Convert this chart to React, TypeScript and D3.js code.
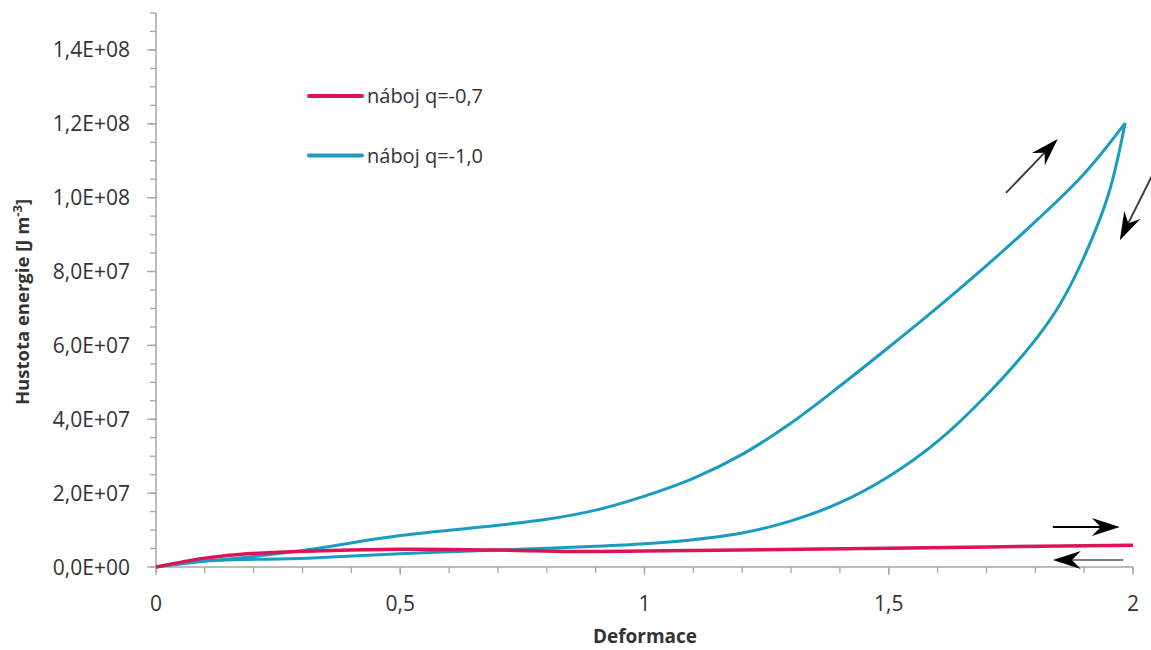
import React from 'react';
import * as d3 from 'd3';

const W = 1151;
const H = 650;

// Axis ticks
const xMajorTicks = [0, 0.5, 1, 1.5, 2];
const yMajorTicks = [0, 2e7, 4e7, 6e7, 8e7, 1e8, 1.2e8, 1.4e8];
const xMinorStep = 0.1;
const yMinorStep = 5e6;

// Series: náboj q=-0,7 (loading and unloading coincide)
const redX = [0, 0.1, 0.17, 0.29, 0.5, 0.7, 0.85, 1.0, 1.5, 2.0];
const redY = [0, 2.4e6, 3.4e6, 4.2e6, 4.8e6, 4.6e6, 4.2e6, 4.3e6, 5.1e6, 5.9e6];

// Series: náboj q=-1,0 loading branch
const blueLoadX = [0, 0.1, 0.14, 0.29, 0.5, 0.7, 0.8, 0.9, 1.0, 1.1, 1.2, 1.3, 1.4, 1.5, 1.6, 1.7, 1.8, 1.9, 1.984];
const blueLoadY = [0, 1.6e6, 2.0e6, 4.3e6, 8.5e6, 11.3e6, 12.9e6, 15.4e6, 19.2e6, 24.0e6, 30.5e6, 39.0e6, 49.0e6, 59.5e6, 70.3e6, 81.6e6, 93.5e6, 106.5e6, 120.2e6];

// Series: náboj q=-1,0 unloading branch (listed from origin to the turning point)
const blueUnloadX = [0, 0.104, 0.309, 0.5, 0.7, 0.8, 0.9, 1.0, 1.1, 1.2, 1.3, 1.4, 1.5, 1.6, 1.7, 1.8, 1.85, 1.9, 1.95, 1.984];
const blueUnloadY = [0, 1.6e6, 2.4e6, 3.6e6, 4.6e6, 5.1e6, 5.6e6, 6.3e6, 7.4e6, 9.2e6, 12.5e6, 17.4e6, 24.5e6, 34.0e6, 46.5e6, 61.5e6, 71.0e6, 84.0e6, 101.0e6, 120.2e6];

const seriesNames = ['náboj q=-0,7', 'náboj q=-1,0'];
const seriesColors = ['#DA1457', '#1A9CC0'];

// Direction arrows (data coordinates): from -> to
const arrowX1 = [1.74, 2.055, 1.836, 1.98];
const arrowY1 = [101.3e6, 110.2e6, 10.8e6, 1.9e6];
const arrowX2 = [1.846, 1.973, 1.973, 1.836];
const arrowY2 = [115.9e6, 88.5e6, 10.8e6, 1.9e6];
const arrowShaftColors = ['#404040', '#404040', '#000000', '#808080'];

const xTitle = 'Deformace';
const yTitle = 'Hustota energie [J m';

const FONT = "'Open Sans', sans-serif";
const AXIS_COLOR = '#A6A6A6';
const TEXT_COLOR = '#333333';

function fmtY(v: number): string {
  if (v === 0) return '0,0E+00';
  const e = Math.floor(Math.log10(v) + 1e-9);
  const m = v / Math.pow(10, e);
  return `${m.toFixed(1).replace('.', ',')}E+${String(e).padStart(2, '0')}`;
}
function fmtX(v: number): string {
  return String(v).replace('.', ',');
}

export default function App() {
  const x = d3.scaleLinear().domain([0, 2]).range([156, 1133]);
  const y = d3.scaleLinear().domain([0, 1.5e8]).range([567, 13]);

  const line = d3
    .line<[number, number]>()
    .x((d) => x(d[0]))
    .y((d) => y(d[1]))
    .curve(d3.curveCatmullRom.alpha(0.5));

  const zip = (a: number[], b: number[]) => a.map((v, i) => [v, b[i]] as [number, number]);

  const xMinor = d3.range(0, 2 + 1e-9, xMinorStep);
  const yMinor = d3.range(0, 1.5e8 + 1, yMinorStep);

  const arrows = arrowX1.map((_, i) => {
    const x1 = x(arrowX1[i]);
    const y1 = y(arrowY1[i]);
    const x2 = x(arrowX2[i]);
    const y2 = y(arrowY2[i]);
    const ang = Math.atan2(y2 - y1, x2 - x1);
    const len = 28;
    const hw = 9;
    const notch = 19;
    const ux = Math.cos(ang);
    const uy = Math.sin(ang);
    const px = -uy;
    const py = ux;
    const bx = x2 - ux * len;
    const by = y2 - uy * len;
    const nx = x2 - ux * notch;
    const ny = y2 - uy * notch;
    const head = `M${x2},${y2} L${bx + px * hw},${by + py * hw} L${nx},${ny} L${bx - px * hw},${by - py * hw} Z`;
    return { x1, y1, nx, ny, head, color: arrowShaftColors[i] };
  });

  return (
    <svg
      width={W}
      height={H}
      style={{ position: 'absolute', left: 0, top: 0, background: '#fff' }}
      fontFamily={FONT}
    >
      <rect x={0} y={0} width={W} height={H} fill="#fff" />
      {/* Y axis */}
      <line x1={x(0)} x2={x(0)} y1={y(0)} y2={y(1.5e8)} stroke={AXIS_COLOR} strokeWidth={1.5} />
      {yMinor.map((v) => (
        <line key={'ym' + v} x1={x(0) - 6} x2={x(0)} y1={y(v)} y2={y(v)} stroke={AXIS_COLOR} strokeWidth={1.3} />
      ))}
      {yMajorTicks.map((v) => (
        <g key={'yM' + v}>
          <line x1={x(0) - 9} x2={x(0)} y1={y(v)} y2={y(v)} stroke={AXIS_COLOR} strokeWidth={1.3} />
          <text x={130} y={y(v)} dy="0.36em" textAnchor="end" fontSize={21} fill={TEXT_COLOR}>
            {fmtY(v)}
          </text>
        </g>
      ))}
      {/* X axis */}
      <line x1={x(0)} x2={x(2)} y1={y(0)} y2={y(0)} stroke={AXIS_COLOR} strokeWidth={1.5} />
      {xMinor.map((v) => (
        <line key={'xm' + v} x1={x(v)} x2={x(v)} y1={y(0)} y2={y(0) + 6} stroke={AXIS_COLOR} strokeWidth={1.3} />
      ))}
      {xMajorTicks.map((v) => (
        <g key={'xM' + v}>
          <line x1={x(v)} x2={x(v)} y1={y(0)} y2={y(0) + 8} stroke={AXIS_COLOR} strokeWidth={1.3} />
          <text x={x(v)} y={611} textAnchor="middle" fontSize={21} fill={TEXT_COLOR}>
            {fmtX(v)}
          </text>
        </g>
      ))}
      {/* Titles */}
      <text x={645} y={643} textAnchor="middle" fontSize={19} fontWeight="bold" fill={TEXT_COLOR}>
        {xTitle}
      </text>
      <text
        transform="translate(29,302) rotate(-90)"
        textAnchor="middle"
        fontSize={18.5}
        fontWeight="bold"
        fill={TEXT_COLOR}
      >
        {yTitle}
        <tspan dy={-7} fontSize={13}>-3</tspan>
        <tspan dy={7}>]</tspan>
      </text>
      {/* Series */}
      <path d={line(zip(blueLoadX, blueLoadY)) || ''} fill="none" stroke={seriesColors[1]} strokeWidth={3} strokeLinejoin="round" />
      <path d={line(zip(blueUnloadX, blueUnloadY)) || ''} fill="none" stroke={seriesColors[1]} strokeWidth={3} strokeLinejoin="round" />
      <path d={line(zip(redX, redY)) || ''} fill="none" stroke={seriesColors[0]} strokeWidth={3.5} strokeLinejoin="round" />
      {/* Legend */}
      {seriesNames.map((name, i) => (
        <g key={name}>
          <line x1={309} x2={362} y1={96 + i * 59.5} y2={96 + i * 59.5} stroke={seriesColors[i]} strokeWidth={4} strokeLinecap="round" />
          <text x={367} y={96 + i * 59.5} dy="0.36em" fontSize={20} fill={TEXT_COLOR}>
            {name}
          </text>
        </g>
      ))}
      {/* Arrows */}
      {arrows.map((a, i) => (
        <g key={'ar' + i}>
          <line x1={a.x1} y1={a.y1} x2={a.nx} y2={a.ny} stroke={a.color} strokeWidth={2} />
          <path d={a.head} fill="#000" />
        </g>
      ))}
    </svg>
  );
}
